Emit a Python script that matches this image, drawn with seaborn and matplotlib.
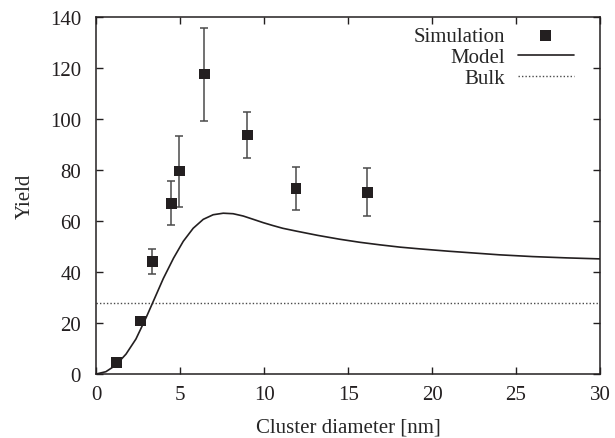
import matplotlib
matplotlib.use("Agg")
import matplotlib.pyplot as plt
import seaborn as sns
import pandas as pd

# simulation points
sim_d = [1.19, 2.62, 3.33, 4.46, 4.94, 6.43, 8.99, 11.9, 16.13]
sim_y = [4.6, 20.8, 44.2, 66.9, 79.5, 117.5, 93.6, 72.8, 71.2]
sim_lo = [4.6, 20.8, 39.2, 58.2, 65.5, 99.2, 84.7, 64.3, 62.0]
sim_hi = [4.6, 20.8, 49.0, 75.6, 93.3, 135.4, 102.5, 81.2, 80.8]

model_d = [0.0, 0.57, 1.17, 1.77, 2.36, 2.96, 3.45, 3.99, 4.6, 5.18, 5.77,
           6.37, 6.96, 7.56, 8.15, 8.75, 9.35, 9.94, 10.5, 11.1, 11.9, 13.2,
           14.5, 15.7, 16.9, 18.1, 19.3, 21.0, 22.5, 24.0, 26.0, 28.0, 30.0]
model_y = [0.0, 0.9, 3.5, 7.8, 13.7, 22.0, 29.3, 37.4, 45.4, 52.0, 57.1,
           60.6, 62.4, 63.0, 62.8, 61.9, 60.6, 59.3, 58.2, 57.1, 56.0, 54.3,
           52.8, 51.6, 50.6, 49.7, 49.0, 48.1, 47.4, 46.7, 46.0, 45.5, 45.1]

bulk_y = 28.0

sns.set_style("ticks")
plt.rcParams['font.family'] = ['Liberation Serif', 'DejaVu Serif']

fig = plt.figure(figsize=(6.15, 4.39), dpi=100)
ax = fig.add_axes([0.1566, 0.1458, 0.8190, 0.8139])

sim = pd.DataFrame({'d': sim_d, 'y': sim_y})
model = pd.DataFrame({'d': model_d, 'y': model_y})

### error bars first, then markers on top
yerr = [[y - lo for y, lo in zip(sim_y, sim_lo)], [hi - y for y, hi in zip(sim_y, sim_hi)]]
ax.errorbar(sim_d, sim_y, yerr=yerr, fmt='none', ecolor='#4a4a4a', elinewidth=1.1,
            capsize=3, capthick=1.1, zorder=3)
sns.scatterplot(data=sim, x='d', y='y', marker='s', s=60, color='#231f20',
                edgecolor='none', label='Simulation', ax=ax, zorder=4)
sns.lineplot(data=model, x='d', y='y', color='#231f20', linewidth=1.2,
             label='Model', ax=ax, zorder=2)
ax.axhline(bulk_y, color='#4a4a4a', linewidth=1.0, linestyle=(0, (1, 1.5)),
           label='Bulk', zorder=1)

### axes
ax.set_xlim(0, 30)
ax.set_ylim(0, 140)
ax.set_xticks(range(0, 31, 5))
ax.set_yticks(range(0, 141, 20))
ax.tick_params(direction='in', top=True, right=True, length=5, width=1,
               labelsize=15, colors='#231f20')
ax.tick_params(axis='x', pad=8)
ax.tick_params(axis='y', pad=11)
for sp in ax.spines.values():
    sp.set_linewidth(1.1)
    sp.set_color('#231f20')
ax.set_xlabel('Cluster diameter [nm]', fontsize=15, labelpad=10)
ax.set_ylabel('Yield', fontsize=15, labelpad=11)

### legend: text on the left, sample on the right
leg = ax.legend(loc='upper right', markerfirst=False, frameon=False, fontsize=15,
                handlelength=2.7, handletextpad=0.6, labelspacing=0.07,
                borderpad=0.4, borderaxespad=0.85, bbox_to_anchor=(1.0, 1.045))

fig.savefig('out.png', dpi=100)
plt.close()
